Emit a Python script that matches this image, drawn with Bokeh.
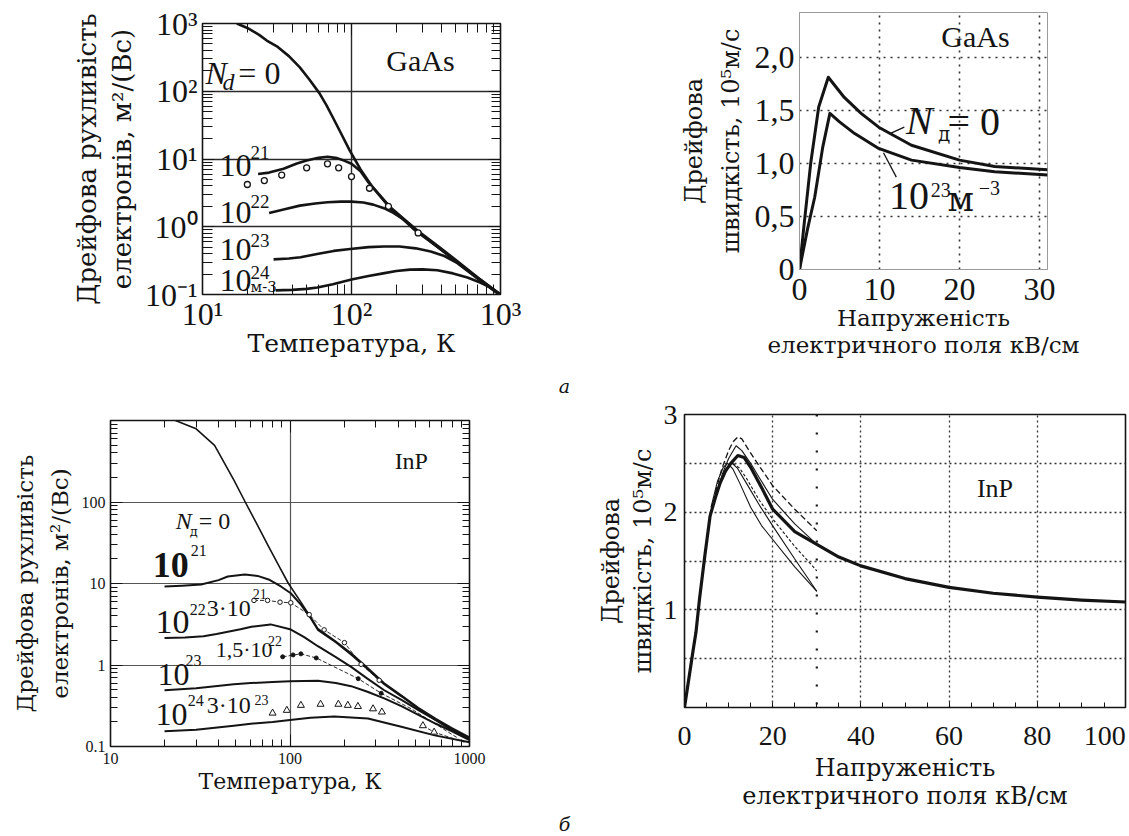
from bokeh.plotting import figure
from bokeh.models import FixedTicker, LogAxis, CustomJSTickFormatter, Span, Div
from bokeh.layouts import column, row
from bokeh.embed import file_html
from bokeh.resources import INLINE
from bokeh.core.properties import value

FONT = "Liberation Serif"      # digits / Latin
CYR = "DejaVu Serif"           # serif face that carries Cyrillic here
INK = "#141414"

# ---------------- а) GaAs : drift mobility vs temperature ----------------
gaas_T_0 = [17, 20, 24, 27, 32, 38, 45, 52, 61, 68, 75, 85, 97, 115, 138, 160, 183, 230, 277, 380, 514, 700, 1000]
gaas_mu_0 = [1000, 860, 680, 560, 450, 330, 225, 150, 93, 62, 41, 24, 13.5, 7.0, 3.9, 2.7, 1.92, 1.25, 0.88, 0.52, 0.31, 0.18, 0.1]
gaas_T_21 = [23.6, 28, 35, 43, 50, 60, 69, 80, 90, 100, 115, 130, 142, 183, 277, 514, 1000]
gaas_mu_21 = [6.0, 6.3, 7.2, 8.6, 9.5, 10.4, 10.8, 10.3, 9.4, 8.5, 6.6, 4.5, 3.6, 1.85, 0.85, 0.30, 0.098]
gaas_T_exp = [20, 26, 34, 50, 69, 82, 100, 132, 177, 280]
gaas_mu_exp = [4.2, 4.8, 5.8, 7.4, 8.5, 7.4, 5.5, 3.7, 2.0, 0.81]
gaas_T_22 = [28, 35, 45, 57, 69, 85, 100, 120, 140, 165, 191, 225, 260, 380, 514, 700, 1000]
gaas_mu_22 = [1.6, 1.8, 2.05, 2.2, 2.3, 2.35, 2.35, 2.28, 2.12, 1.88, 1.6, 1.27, 0.93, 0.50, 0.30, 0.175, 0.097]
gaas_T_23 = [30, 38, 45.5, 60, 76, 98, 130, 165, 210, 270, 340, 420, 514, 700, 1000]
gaas_mu_23 = [0.33, 0.34, 0.355, 0.40, 0.44, 0.47, 0.50, 0.51, 0.51, 0.48, 0.43, 0.37, 0.29, 0.172, 0.097]
gaas_T_24 = [31, 40, 50, 59, 75, 100, 130, 163, 200, 247, 300, 377, 480, 600, 730, 860, 1000]
gaas_mu_24 = [0.115, 0.117, 0.121, 0.127, 0.142, 0.166, 0.188, 0.205, 0.222, 0.233, 0.235, 0.228, 0.205, 0.178, 0.15, 0.127, 0.1]

# ---------------- а) GaAs : drift velocity vs field ----------------
gaas_E_0 = [0, 0.5, 1.4, 2.4, 3.6, 5.6, 7.7, 9.9, 14, 20, 24.4, 31]
gaas_v_0 = [0, 0.37, 1.0, 1.53, 1.81, 1.62, 1.47, 1.34, 1.17, 1.03, 0.97, 0.94]
gaas_E_23 = [0, 1.0, 1.9, 2.9, 3.8, 5.0, 6.9, 9.9, 14, 20, 24.4, 31]
gaas_v_23 = [0, 0.38, 0.68, 1.15, 1.47, 1.39, 1.28, 1.14, 1.03, 0.96, 0.92, 0.89]

# ---------------- б) InP : drift mobility vs temperature ----------------
inp_T_0 = [23, 30, 38, 48.7, 56.3, 65, 75, 86, 98, 115, 131, 143, 180, 219, 270, 335, 420, 519, 650, 794, 1000]
inp_mu_0 = [1000, 790, 495, 185, 100, 55, 30, 17, 10, 5.9, 3.8, 2.8, 1.95, 1.4, 0.93, 0.6, 0.42, 0.30, 0.22, 0.17, 0.13]
inp_T_21 = [20, 25, 32, 40, 45, 56, 66, 76, 89, 101, 115, 131, 143, 180, 219, 270, 335, 420, 519, 650, 794, 1000]
inp_mu_21 = [9.2, 9.4, 9.7, 11.0, 12.2, 12.9, 12.4, 11.2, 9.2, 7.6, 5.5, 3.7, 2.7, 1.9, 1.35, 0.9, 0.58, 0.41, 0.29, 0.21, 0.165, 0.125]
inp_T_22 = [20, 26, 33, 39, 53, 61, 78, 100, 120, 143, 180, 219, 270, 335, 420, 519, 650, 794, 1000]
inp_mu_22 = [2.15, 2.18, 2.25, 2.4, 2.75, 2.95, 3.15, 2.75, 2.2, 1.7, 1.25, 0.95, 0.68, 0.49, 0.37, 0.28, 0.21, 0.16, 0.123]
inp_T_23 = [20, 30, 48.6, 60.5, 80, 100, 143, 180, 219, 270, 335, 420, 519, 650, 794, 1000]
inp_mu_23 = [0.49, 0.52, 0.58, 0.6, 0.62, 0.63, 0.64, 0.6, 0.55, 0.47, 0.39, 0.31, 0.245, 0.19, 0.155, 0.12]
inp_T_24 = [20, 30, 48.6, 60.5, 80, 100, 130, 176, 272, 417, 640, 1000]
inp_mu_24 = [0.154, 0.16, 0.18, 0.19, 0.2, 0.212, 0.225, 0.233, 0.22, 0.175, 0.137, 0.113]
# experimental points (3e21 circles, 1.5e22 dots, 3e23 triangles)
inp_T_c21 = [63, 75, 88, 101, 128, 155, 201, 249, 314]
inp_mu_c21 = [6.2, 6.2, 5.9, 5.8, 4.15, 2.7, 1.88, 1.02, 0.65]
inp_T_d22 = [91, 104, 115, 140, 240, 322]
inp_mu_d22 = [1.26, 1.33, 1.37, 1.22, 0.68, 0.45]
inp_T_f22 = [91, 115, 140, 240, 322, 474, 870]
inp_mu_f22 = [1.26, 1.37, 1.22, 0.68, 0.45, 0.29, 0.125]
inp_T_t23 = [80, 96, 115, 148, 186, 210, 239, 290, 325, 550, 635]
inp_mu_t23 = [0.257, 0.278, 0.32, 0.33, 0.33, 0.32, 0.31, 0.29, 0.265, 0.18, 0.15]
inp_T_f23 = [550, 635, 935]
inp_mu_f23 = [0.18, 0.15, 0.113]

# ---------------- б) InP : drift velocity vs field ----------------
inp_E = [0, 1, 2, 2.6, 3.4, 4.6, 5.8, 7, 8.1, 9.3, 10.5, 12.1, 13.5, 15, 17.5, 20, 25, 30, 35, 40, 50, 60, 70, 80, 90, 100]
inp_v = [0, 0.3, 0.6, 0.77, 1.11, 1.55, 1.96, 2.15, 2.30, 2.42, 2.5, 2.58, 2.56, 2.46, 2.25, 2.03, 1.8, 1.67, 1.54, 1.45, 1.32, 1.23, 1.17, 1.13, 1.1, 1.08]
inp_E_a = [7, 8.5, 10, 11, 12.1, 13, 14.5, 17, 20, 25, 30]
inp_v_a = [2.2, 2.45, 2.63, 2.72, 2.77, 2.75, 2.64, 2.47, 2.27, 2.03, 1.81]
inp_E_b = [7, 8.5, 10, 11.7, 13, 15, 17, 20, 25, 30]
inp_v_b = [2.15, 2.38, 2.55, 2.68, 2.63, 2.5, 2.35, 2.13, 1.88, 1.67]
inp_E_c = [6, 7.5, 8.8, 9.8, 11, 12.5, 15, 17.5, 20, 25, 30]
inp_v_c = [2.05, 2.32, 2.46, 2.5, 2.44, 2.3, 2.05, 1.86, 1.72, 1.44, 1.19]
inp_E_d = [8, 9.5, 10.8, 12, 14, 17, 20, 25, 30]
inp_v_d = [2.3, 2.45, 2.5, 2.45, 2.3, 2.07, 1.86, 1.52, 1.19]
inp_E_e = [11, 12.5, 14, 17, 20, 25, 30]
inp_v_e = [2.5, 2.45, 2.35, 2.12, 1.93, 1.65, 1.40]

# tick values
LOG_MAJOR = [0.1, 1, 10, 100, 1000]
LOG_MINOR = [m * d for d in (0.1, 1, 10, 100) for m in range(2, 10)]
E_TICKS = [0, 20, 40, 60, 80]
E_LAST_LABEL_AT = 95.3   # the original prints "100" pulled in from the right edge

SUP_CODE = """
const s = {'0':'\u2070','1':'\u00b9','2':'\u00b2','3':'\u00b3','-':'\u207b'};
const e = Math.round(Math.log10(tick));
return '10' + String(e).split('').map(c => s[c]).join('');
"""
PLAIN_CODE = """
return tick >= 1 ? String(Math.round(tick)) : tick.toFixed(1);
"""
EMPTY_CODE = "return '';"


def new_fig(w, h, xr, yr, xtype, ytype, bl, br, bt, bb):
    p = figure(width=w, height=h, x_range=xr, y_range=yr, x_axis_type=xtype, y_axis_type=ytype,
               output_backend="svg", toolbar_location=None,
               min_border_left=bl, min_border_right=br, min_border_top=bt, min_border_bottom=bb)
    p.background_fill_color = "white"
    p.border_fill_color = "white"
    return p


def style_axis(ax, tick_size, title_size, lh, lab_off, title_off, line_color=INK):
    ax.major_label_text_font = FONT
    ax.major_label_text_font_size = f"{tick_size}px"
    ax.major_label_text_color = INK
    ax.axis_label_text_font = CYR
    ax.axis_label_text_font_size = f"{title_size}px"
    ax.axis_label_text_font_style = "normal"
    ax.axis_label_text_color = INK
    ax.axis_label_text_line_height = lh
    ax.major_label_standoff = lab_off
    ax.axis_label_standoff = title_off
    ax.axis_line_color = line_color
    ax.major_tick_line_color = INK
    ax.minor_tick_line_color = INK


def inner_ticks(ax, major_in, minor_in):
    ax.major_tick_in = major_in
    ax.major_tick_out = 0
    ax.minor_tick_in = minor_in
    ax.minor_tick_out = 0


def add_tick_axis(p, place, ticks, minor, major_in, minor_in):
    ax = LogAxis(ticker=FixedTicker(ticks=ticks, minor_ticks=minor),
                 formatter=CustomJSTickFormatter(code=EMPTY_CODE),
                 major_label_text_font_size="1px", major_label_standoff=0,
                 axis_line_color=None, major_tick_line_color=INK, minor_tick_line_color=INK)
    inner_ticks(ax, major_in, minor_in)
    p.add_layout(ax, place)


def add_texts(p, items):
    for txt, x, y, size, style, align, face in items:
        p.text(x=[x], y=[y], text=[txt], text_font=value(face), text_font_size=f"{size}px",
               text_font_style=style, text_align=align, text_baseline="middle", text_color=INK)


L, C = FONT, CYR

# =============== panel 1: GaAs mobility ===============
p1 = new_fig(560, 372, (10, 1000), (0.1, 1000), "log", "log", 202, 60, 23, 78)
p1.outline_line_color = INK
p1.outline_line_width = 1.6
tmaj = [10, 100, 1000]
tmin = [m * d for d in (10, 100) for m in range(2, 10)]
p1.xaxis.ticker = FixedTicker(ticks=tmaj, minor_ticks=tmin)
p1.yaxis.ticker = FixedTicker(ticks=LOG_MAJOR, minor_ticks=LOG_MINOR)
p1.xaxis.formatter = CustomJSTickFormatter(code=SUP_CODE)
p1.yaxis.formatter = CustomJSTickFormatter(code=SUP_CODE)
p1.xaxis.axis_label = "Температура, К"
p1.yaxis.axis_label = "Дрейфова рухливість\nелектронів, м²/(Вс)"
style_axis(p1.xaxis[0], 32, 25, 1.2, 1, -6)
style_axis(p1.yaxis[0], 32, 26, 1.15, 5, 5)
inner_ticks(p1.xaxis[0], 12, 10)
inner_ticks(p1.yaxis[0], 12, 10)
add_tick_axis(p1, "above", tmaj, tmin, 12, 9)
add_tick_axis(p1, "right", LOG_MAJOR, LOG_MINOR, 12, 9)
p1.xgrid.ticker = FixedTicker(ticks=[100])
p1.ygrid.ticker = FixedTicker(ticks=[1, 10, 100])
for g in (p1.xgrid[0], p1.ygrid[0]):
    g.grid_line_color = "#2a2a2a"
    g.grid_line_width = 1.4
for xs, ys in ((gaas_T_0, gaas_mu_0), (gaas_T_21, gaas_mu_21), (gaas_T_22, gaas_mu_22),
               (gaas_T_23, gaas_mu_23), (gaas_T_24, gaas_mu_24)):
    p1.line(xs, ys, line_color=INK, line_width=2.6, line_join="round")
p1.scatter(gaas_T_exp, gaas_mu_exp, marker="circle", size=6, fill_color="white",
           line_color=INK, line_width=1.3)
add_texts(p1, [
    ("N", 10.47, 189, 32, "italic", "left", L),
    ("d", 13.6, 139, 24, "italic", "left", L),
    ("= 0", 17.4, 189, 32, "normal", "left", L),
    ("GaAs", 290, 284, 30, "normal", "center", L),
    ("10", 13.0, 8.0, 32, "normal", "left", L), ("21", 21.0, 12.5, 19, "normal", "left", L),
    ("10", 13.0, 1.62, 32, "normal", "left", L), ("22", 21.0, 2.36, 19, "normal", "left", L),
    ("10", 13.0, 0.46, 32, "normal", "left", L), ("23", 21.0, 0.63, 19, "normal", "left", L),
    ("10", 13.0, 0.161, 32, "normal", "left", L), ("24", 21.0, 0.211, 19, "normal", "left", L),
    ("м-3", 21.0, 0.131, 15, "normal", "left", C),
])

# =============== panel 2: GaAs velocity ===============
p2 = new_fig(569, 372, (0, 31), (0, 2.42), "linear", "linear", 239, 82, 12, 103)
p2.outline_line_color = "#9a9a9a"
p2.outline_line_width = 1
p2.xaxis.ticker = FixedTicker(ticks=[0, 10, 20, 30])
p2.yaxis.ticker = FixedTicker(ticks=[0, 0.5, 1, 1.5, 2])
p2.yaxis.major_label_overrides = {0: "0", 0.5: "0,5", 1: "1,0", 1.5: "1,5", 2: "2,0"}
p2.xaxis.axis_label = "Напруженість\nелектричного поля кВ/см"
p2.yaxis.axis_label = "Дрейфова\nшвидкість, 10⁵м/с"
style_axis(p2.xaxis[0], 32, 23, 1.05, 9, 2, "#9a9a9a")
style_axis(p2.yaxis[0], 32, 24, 1.31, 5, 7, "#9a9a9a")
for ax in (p2.xaxis[0], p2.yaxis[0]):
    inner_ticks(ax, 0, 0)
p2.xgrid.ticker = FixedTicker(ticks=[10, 20, 30])
p2.ygrid.ticker = FixedTicker(ticks=[0.5, 1, 1.5, 2])
for g in (p2.xgrid[0], p2.ygrid[0]):
    g.grid_line_color = "#333333"
    g.grid_line_width = 1.6
    g.grid_line_dash = "2 5"
p2.line(gaas_E_0, gaas_v_0, line_color=INK, line_width=3, line_join="round")
p2.line(gaas_E_23, gaas_v_23, line_color=INK, line_width=3, line_join="round")
p2.segment(x0=[11.3, 10.5], y0=[1.28, 1.10], x1=[13.1, 12.1], y1=[1.34, 0.87],
           line_color=INK, line_width=1.3)
add_texts(p2, [
    ("GaAs", 22.0, 2.19, 30, "normal", "center", L),
    ("N", 13.3, 1.40, 40, "italic", "left", L),
    ("д", 17.3, 1.28, 20, "normal", "left", C),
    ("= 0", 18.5, 1.39, 40, "normal", "left", L),
    ("10", 11.2, 0.69, 40, "normal", "left", L),
    ("23", 16.4, 0.75, 20, "normal", "left", L),
    ("м", 18.5, 0.66, 34, "normal", "left", C),
    ("−3", 22.4, 0.77, 20, "normal", "left", L),
])

# =============== panel 3: InP mobility ===============
p3 = new_fig(580, 412, (10, 1000), (0.1, 1000), "log", "log", 110, 111, 20, 66)
p3.outline_line_color = INK
p3.outline_line_width = 1.6
p3.xaxis.ticker = FixedTicker(ticks=tmaj, minor_ticks=tmin)
p3.yaxis.ticker = FixedTicker(ticks=[0.1, 1, 10, 100], minor_ticks=LOG_MINOR)
p3.xaxis.formatter = CustomJSTickFormatter(code=PLAIN_CODE)
p3.yaxis.formatter = CustomJSTickFormatter(code=PLAIN_CODE)
p3.xaxis.axis_label = "Температура, К"
p3.yaxis.axis_label = "Дрейфова рухливість\nелектронів, м²/(Вс)"
style_axis(p3.xaxis[0], 16, 22, 1.2, 6, 2)
style_axis(p3.yaxis[0], 16, 23, 1.33, 5, 6)
inner_ticks(p3.xaxis[0], 12, 7)
inner_ticks(p3.yaxis[0], 12, 7)
add_tick_axis(p3, "above", tmaj, tmin, 12, 7)
add_tick_axis(p3, "right", LOG_MAJOR, LOG_MINOR, 12, 7)
p3.xgrid.ticker = FixedTicker(ticks=[100])
p3.ygrid.ticker = FixedTicker(ticks=[1, 10, 100])
for g in (p3.xgrid[0], p3.ygrid[0]):
    g.grid_line_color = "#555555"
    g.grid_line_width = 1.2
p3.line(inp_T_0, inp_mu_0, line_color=INK, line_width=1.6, line_join="round")
for xs, ys in ((inp_T_21, inp_mu_21), (inp_T_22, inp_mu_22), (inp_T_23, inp_mu_23), (inp_T_24, inp_mu_24)):
    p3.line(xs, ys, line_color=INK, line_width=2.0, line_join="round")
p3.line(inp_T_c21, inp_mu_c21, line_color=INK, line_width=0.9, line_dash="4 2")
p3.scatter(inp_T_c21, inp_mu_c21, marker="circle", size=4.5, fill_color="white", line_color=INK, line_width=1)
p3.line(inp_T_f22, inp_mu_f22, line_color=INK, line_width=0.9, line_dash="4 2")
p3.scatter(inp_T_d22, inp_mu_d22, marker="circle", size=4, fill_color=INK, line_color=INK)
p3.line(inp_T_f23, inp_mu_f23, line_color=INK, line_width=0.9, line_dash="4 2")
p3.scatter(inp_T_t23, inp_mu_t23, marker="triangle", size=7, fill_color="white", line_color=INK, line_width=1)
add_texts(p3, [
    ("InP", 474, 321, 24, "normal", "center", L),
    ("N", 23.1, 58, 24, "italic", "left", L),
    ("д", 27.6, 43, 13, "normal", "left", C),
    ("= 0", 31.0, 58, 24, "normal", "left", L),
    ("10", 17.2, 16.7, 36, "bold", "left", L), ("21", 28.0, 25.5, 16, "normal", "left", L),
    ("10", 17.8, 3.40, 34, "normal", "left", L), ("22", 27.6, 4.78, 16, "normal", "left", L),
    ("3·10", 34.4, 5.06, 24, "normal", "left", L), ("21", 62.0, 7.5, 14, "normal", "left", L),
    ("10", 18.3, 0.77, 32, "normal", "left", L), ("23", 26.2, 1.12, 16, "normal", "left", L),
    ("1,5·10", 38.6, 1.53, 22, "normal", "left", L), ("22", 75.4, 1.98, 14, "normal", "left", L),
    ("10", 17.8, 0.248, 32, "normal", "left", L), ("24", 26.9, 0.37, 16, "normal", "left", L),
    ("3·10", 34.4, 0.32, 24, "normal", "left", L), ("23", 63.5, 0.37, 14, "normal", "left", L),
])

# =============== panel 4: InP velocity ===============
p4 = new_fig(549, 412, (0, 100), (0, 3), "linear", "linear", 104, 4, 14, 103)
p4.outline_line_color = INK
p4.outline_line_width = 1.6
p4.xaxis.ticker = FixedTicker(ticks=E_TICKS + [E_LAST_LABEL_AT], minor_ticks=list(range(5, 95, 5)))
p4.xaxis.major_label_overrides = {E_LAST_LABEL_AT: "100"}
p4.yaxis.ticker = FixedTicker(ticks=[1, 2, 3])
p4.xaxis.axis_label = "Напруженість\nелектричного поля кВ/см"
p4.yaxis.axis_label = "Дрейфова\nшвидкість, 10⁵м/с"
style_axis(p4.xaxis[0], 28, 24, 1.0, 19, 6)
style_axis(p4.yaxis[0], 28, 24, 1.14, 7, 4)
inner_ticks(p4.xaxis[0], 5, 5)
inner_ticks(p4.yaxis[0], 0, 0)
p4.xgrid.ticker = FixedTicker(ticks=[20, 40, 60, 80])
p4.ygrid.ticker = FixedTicker(ticks=[0.5, 1, 1.5, 2, 2.5])
for g in (p4.xgrid[0], p4.ygrid[0]):
    g.grid_line_color = "#333333"
    g.grid_line_width = 1.3
    g.grid_line_dash = "2 3"
p4.add_layout(Span(location=30, dimension="height", line_color=INK, line_width=2.2, line_dash="2 16"))
p4.line(inp_E_a, inp_v_a, line_color=INK, line_width=1.3, line_dash="6 3")
p4.line(inp_E_b, inp_v_b, line_color=INK, line_width=1.1)
p4.line(inp_E_c, inp_v_c, line_color=INK, line_width=1.1)
p4.line(inp_E_d, inp_v_d, line_color=INK, line_width=1.1)
p4.line(inp_E_e, inp_v_e, line_color=INK, line_width=1.1, line_dash="3 2")
p4.line(inp_E, inp_v, line_color=INK, line_width=3.2, line_join="round")
add_texts(p4, [("InP", 70.4, 2.24, 26, "normal", "center", L)])

CAP = ("<div style=\"width:1129px;text-align:center;font-family:'DejaVu Serif';"
       "font-style:italic;font-size:19px;line-height:{lh}px;color:#141414;\">{t}</div>")
cap_a = Div(text=CAP.format(lh=28, t="а"), width=1129, height=28, margin=0)
cap_b = Div(text=CAP.format(lh=24, t="б"), width=1129, height=24, margin=0)

layout = column(row(column(p1), column(p2)), cap_a, row(column(p3), column(p4)), cap_b)
open("out.html", "w").write(file_html(layout, INLINE))
